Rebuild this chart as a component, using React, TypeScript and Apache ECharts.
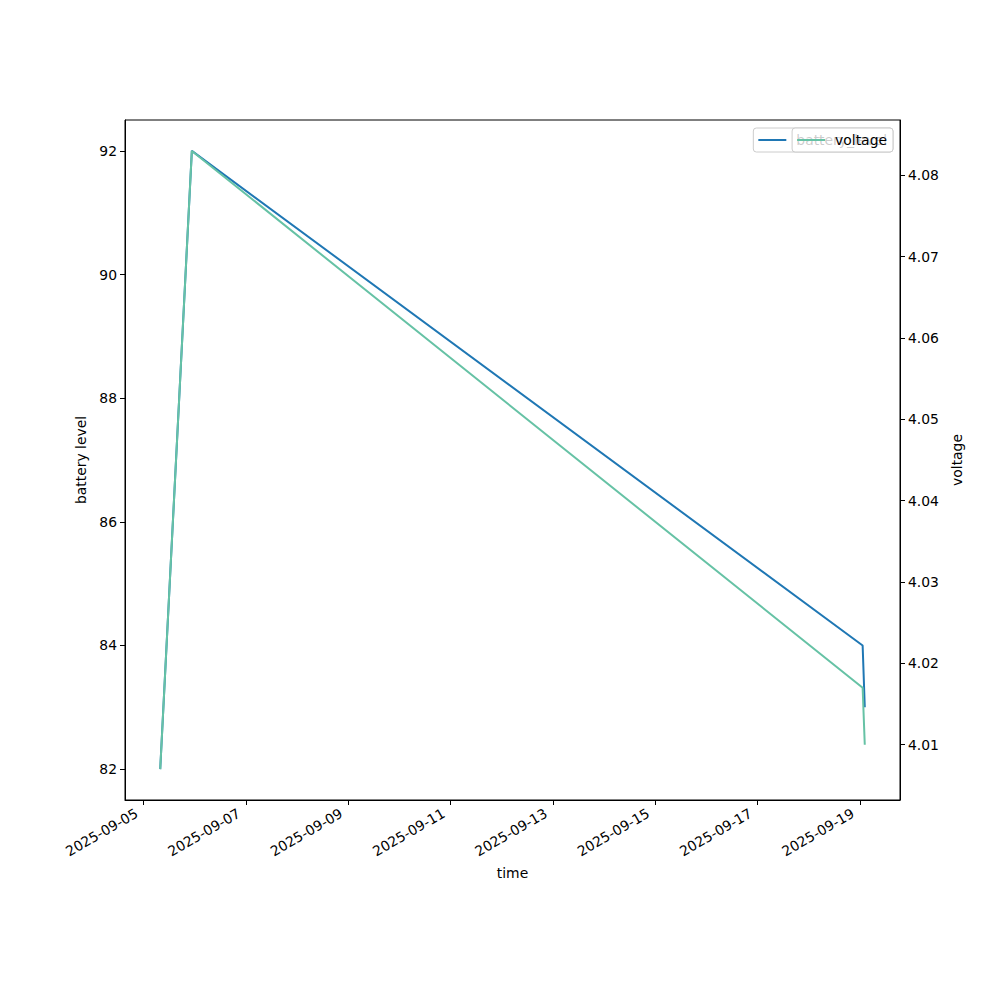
import React, { useEffect, useRef } from "react";
import * as echarts from "echarts";

const times: string[] = [
  "2025-09-05T07:50:00Z",
  "2025-09-05T22:40:00Z",
  "2025-09-19T01:20:00Z",
  "2025-09-19T02:20:00Z",
];
const batteryLevel: number[] = [82, 92, 84, 83];
const voltage: number[] = [4.007, 4.083, 4.017, 4.01];

const xTickLabels: string[] = [
  "2025-09-05",
  "2025-09-07",
  "2025-09-09",
  "2025-09-11",
  "2025-09-13",
  "2025-09-15",
  "2025-09-17",
  "2025-09-19",
];
const batteryTicks: number[] = [82, 84, 86, 88, 90, 92];
const voltageTicks: number[] = [4.01, 4.02, 4.03, 4.04, 4.05, 4.06, 4.07, 4.08];

const FONT = "DejaVu Sans";
const FS = 13.9;

function padRange(vals: number[], frac = 0.05): [number, number] {
  const lo = Math.min(...vals);
  const hi = Math.max(...vals);
  const m = (hi - lo) * frac;
  return [lo - m, hi + m];
}

function fmtDate(v: number): string {
  const d = new Date(v);
  const mm = String(d.getUTCMonth() + 1).padStart(2, "0");
  const dd = String(d.getUTCDate()).padStart(2, "0");
  return `${d.getUTCFullYear()}-${mm}-${dd}`;
}

export default function App() {
  const ref = useRef<HTMLDivElement>(null);

  useEffect(() => {
    if (!ref.current) return;
    const chart = echarts.init(ref.current, undefined, { renderer: "svg" });

    const tNum = times.map((t) => Date.parse(t));
    const [xMin, xMax] = padRange(tNum);
    const [bMin, bMax] = padRange(batteryLevel);
    const [vMin, vMax] = padRange(voltage);
    const xTicks = xTickLabels.map((s) => Date.parse(s + "T00:00:00Z"));

    const axisCommon = {
      axisLine: { show: true, lineStyle: { color: "#000", width: 1 } },
      axisTick: { show: true, length: 5, lineStyle: { color: "#000", width: 1 } },
      splitLine: { show: false },
      nameTextStyle: { color: "#000", fontSize: FS, fontFamily: FONT },
    };

    const legendCommon = {
      right: 107,
      top: 128,
      orient: "vertical",
      icon: "rect",
      itemWidth: 28,
      itemHeight: 2,
      padding: [5, 6, 5, 5],
      backgroundColor: "rgba(255,255,255,0.8)",
      borderColor: "#cccccc",
      borderWidth: 1,
      borderRadius: 3,
      textStyle: { color: "#000", fontSize: FS, fontFamily: FONT, padding: [0, 0, 0, 5] },
    };

    chart.setOption({
      animation: false,
      backgroundColor: "#ffffff",
      textStyle: { fontFamily: FONT },
      grid: {
        left: 125,
        right: 100,
        top: 120,
        bottom: 200,
        show: true,
        borderColor: "#000",
        borderWidth: 1,
        backgroundColor: "transparent",
        containLabel: false,
        outerBoundsMode: "none",
      },
      legend: [
        { ...legendCommon, data: ["battery_level"], z: 5 },
        { ...legendCommon, data: ["voltage"], z: 6 },
      ],
      xAxis: {
        type: "value",
        min: xMin,
        max: xMax,
        name: "time",
        nameLocation: "middle",
        nameGap: 66,
        ...axisCommon,
        axisTick: { ...axisCommon.axisTick, customValues: xTicks },
        axisLabel: {
          customValues: xTicks,
          rotate: 30,
          color: "#000",
          fontSize: FS,
          fontFamily: FONT,
          margin: 8,
          padding: [0, 8, 0, 0],
          formatter: (v: number) => fmtDate(v),
        },
      },
      yAxis: [
        {
          type: "value",
          min: bMin,
          max: bMax,
          name: "battery level",
          nameLocation: "middle",
          nameGap: 34,
          position: "left",
          ...axisCommon,
          axisTick: { ...axisCommon.axisTick, customValues: batteryTicks },
          axisLabel: {
            customValues: batteryTicks,
            color: "#000",
            fontSize: FS,
            fontFamily: FONT,
            margin: 8,
          },
        },
        {
          type: "value",
          min: vMin,
          max: vMax,
          name: "voltage",
          nameLocation: "middle",
          nameGap: 45,
          position: "right",
          ...axisCommon,
          axisTick: { ...axisCommon.axisTick, customValues: voltageTicks },
          axisLabel: {
            customValues: voltageTicks,
            color: "#000",
            fontSize: FS,
            fontFamily: FONT,
            margin: 8,
            formatter: (v: number) => v.toFixed(2),
          },
        },
      ],
      series: [
        {
          name: "battery_level",
          type: "line",
          yAxisIndex: 0,
          symbol: "none",
          lineStyle: { color: "#1f77b4", width: 2 },
          itemStyle: { color: "#1f77b4" },
          data: tNum.map((t, i) => [t, batteryLevel[i]]),
          z: 2,
        },
        {
          name: "voltage",
          type: "line",
          yAxisIndex: 1,
          symbol: "none",
          lineStyle: { color: "#66c2a5", width: 2 },
          itemStyle: { color: "#66c2a5" },
          data: tNum.map((t, i) => [t, voltage[i]]),
          z: 3,
        },
      ],
    });

    return () => chart.dispose();
  }, []);

  return (
    <div
      ref={ref}
      style={{ position: "absolute", left: 0, top: 0, width: 1000, height: 1000 }}
    />
  );
}
